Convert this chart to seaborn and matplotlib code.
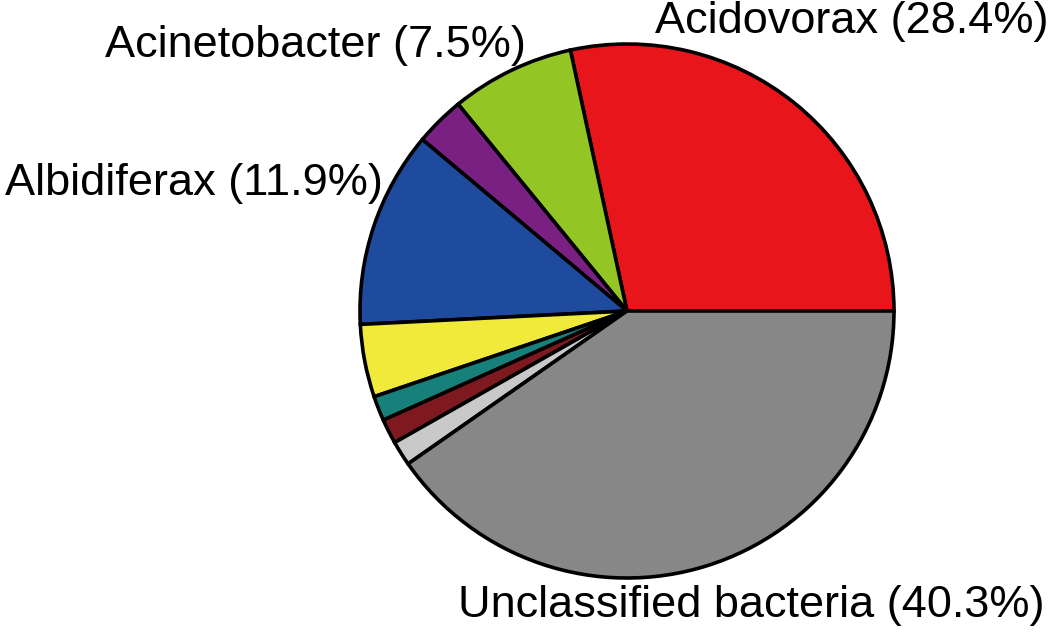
"""
Pie chart of bacterial genera (relative abundance).
"""

import matplotlib
matplotlib.use("Agg")
import matplotlib.pyplot as plt
import seaborn as sns

# slice data, counterclockwise from 3 o'clock
genera = ["Acidovorax", "Acinetobacter", "Other 1", "Albidiferax", "Other 2",
          "Other 3", "Other 4", "Other 5", "Unclassified bacteria"]
shares = [28.4, 7.5, 3.0, 11.9, 4.4, 1.5, 1.5, 1.5, 40.3]
colors = ["#E8151B", "#93C524", "#7A2083", "#1F4B9F", "#F1EA3B",
          "#18807A", "#7E1A1F", "#C9C9C9", "#878787"]

# labelled slices and where their text sits (pixel coords, y from top)
labels = ["Acidovorax (28.4%)", "Acinetobacter (7.5%)",
          "Albidiferax (11.9%)", "Unclassified bacteria (40.3%)"]
label_pos = [(655, 22), (105, 45), (5, 183), (458, 605)]

W, H = 1050, 632

sns.set_style("white")
plt.rcParams["font.family"] = ["Liberation Sans", "DejaVu Sans"]

fig = plt.figure(figsize=(W / 100, H / 100), dpi=100)
ax = fig.add_axes([0, 0, 1, 1])

ax.pie(shares, colors=colors, startangle=0, counterclock=True,
       center=(627, H - 311), radius=267,
       wedgeprops={"edgecolor": "black", "linewidth": 2.6})

for text, (x, y) in zip(labels, label_pos):
    ax.text(x, H - y, text, fontsize=32.5, color="black",
            ha="left", va="center")

ax.set_xlim(0, W)
ax.set_ylim(0, H)
ax.set_aspect("equal")
ax.axis("off")

fig.savefig("out.png", dpi=100)
